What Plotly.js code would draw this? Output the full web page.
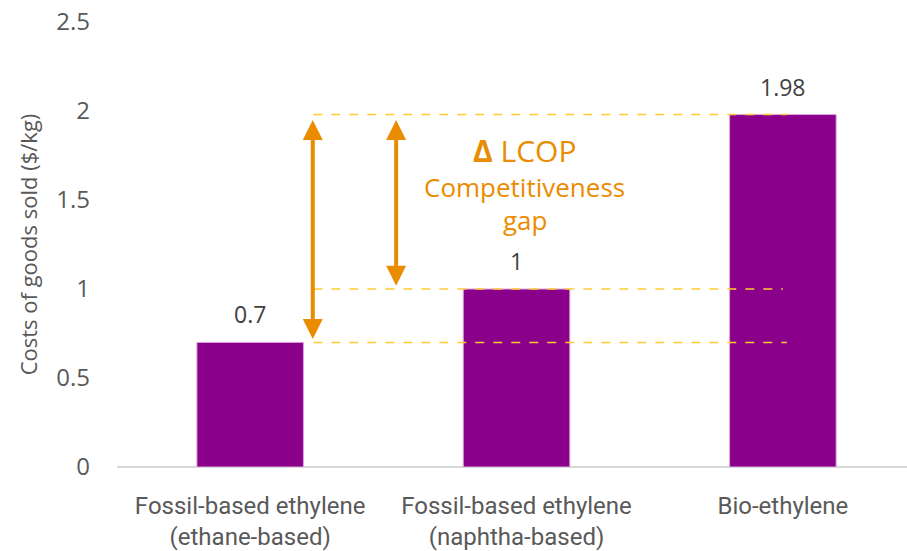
<!DOCTYPE html>
<html>
<head>
<meta charset="utf-8">
<script src="https://cdn.plot.ly/plotly-3.0.1.min.js"></script>
<style>
  html, body { margin: 0; padding: 0; background: #ffffff; }
  #chart { width: 907px; height: 551px; }
</style>
</head>
<body>
<div id="chart"></div>
<script>
// Production cost of ethylene by route ($/kg)
const categories = [
  "Fossil-based ethylene<br>(ethane-based)",
  "Fossil-based ethylene<br>(naphtha-based)",
  "Bio-ethylene"
];
const costs = [0.7, 1, 1.98];
const yTicks = [0, 0.5, 1, 1.5, 2, 2.5];
const yTickLabels = ["0", "0.5", "1", "1.5", "2", "2.5"];

const barColor = "#8B008B";
const gapColor = "#EA8C00";
const guideColor = "#FFCC33";
const textColor = "#595959";
const font = "Open Sans, Liberation Sans, sans-serif";
const narrowFont = "Roboto, Liberation Sans, sans-serif";

const ethane = costs[0], naphtha = costs[1], bio = costs[2];

const bars = {
  type: "bar",
  x: [0, 1, 2],
  y: costs,
  width: 0.4,
  marker: { color: barColor, line: { color: "#D9A6D9", width: 1 } },
  hoverinfo: "skip"
};

// value labels above the bars
const valueLabels = costs.map((v, i) => ({
  x: i, y: v, xref: "x", yref: "y",
  text: String(v), showarrow: false,
  yanchor: "bottom", yshift: 10,
  font: { family: font, size: 23, color: "#404040" }
}));

// dashed guides at each cost level
const guide = (y, x1) => ({
  type: "line", xref: "x", yref: "y",
  x0: 0.237, x1: x1, y0: y, y1: y,
  line: { color: guideColor, width: 1.5, dash: "dash" }
});

// double-headed arrows showing the gap to the bio route
const gapArrow = (x, yLow, yHigh) => ({
  x: x, y: yHigh - 0.03, ax: x, ay: yLow + 0.01,
  xref: "x", yref: "y", axref: "x", ayref: "y",
  text: "", showarrow: true,
  arrowhead: 2, startarrowhead: 2, arrowside: "end+start",
  arrowsize: 1, startarrowsize: 1,
  arrowwidth: 4, arrowcolor: gapColor,
  standoff: 0, startstandoff: 0
});

const gapText = [
  { y: 1.78, text: "<b>Δ</b> LCOP", size: 30 },
  { y: 1.575, text: "Competitiveness", size: 26 },
  { y: 1.39, text: "gap", size: 26 }
].map(t => ({
  x: 1.03, y: t.y, xref: "x", yref: "y",
  text: t.text, showarrow: false,
  font: { family: font, size: t.size, color: gapColor }
}));

const layout = {
  width: 907, height: 551,
  margin: { l: 117, r: 0, t: 22, b: 84 },
  paper_bgcolor: "#ffffff",
  plot_bgcolor: "#ffffff",
  showlegend: false,
  font: { family: font, color: textColor },
  xaxis: {
    range: [-0.5, 2.466],
    tickvals: [0, 1, 2],
    ticktext: categories,
    showgrid: false, zeroline: false,
    showline: false, ticks: "",
    tickfont: { family: narrowFont, size: 24, color: textColor },
    ticklabelstandoff: 22
  },
  yaxis: {
    range: [0, 2.5],
    tickvals: yTicks, ticktext: yTickLabels,
    showgrid: false, zeroline: true,
    zerolinecolor: "#D9D9D9", zerolinewidth: 1.5,
    showline: false, ticks: "",
    tickfont: { family: font, size: 24, color: textColor },
    ticklabelstandoff: 26,
    title: { text: "Costs of goods sold ($/kg)", standoff: 12,
             font: { family: font, size: 22, color: textColor } }
  },
  shapes: [
    guide(bio, 2.015),
    guide(naphtha, 2.0),
    guide(ethane, 2.015)
  ],
  annotations: [
    ...valueLabels,
    gapArrow(0.235, ethane, bio),
    gapArrow(0.548, naphtha, bio),
    ...gapText
  ]
};

Plotly.newPlot("chart", [bars], layout, { displayModeBar: false, staticPlot: true });
</script>
</body>
</html>
